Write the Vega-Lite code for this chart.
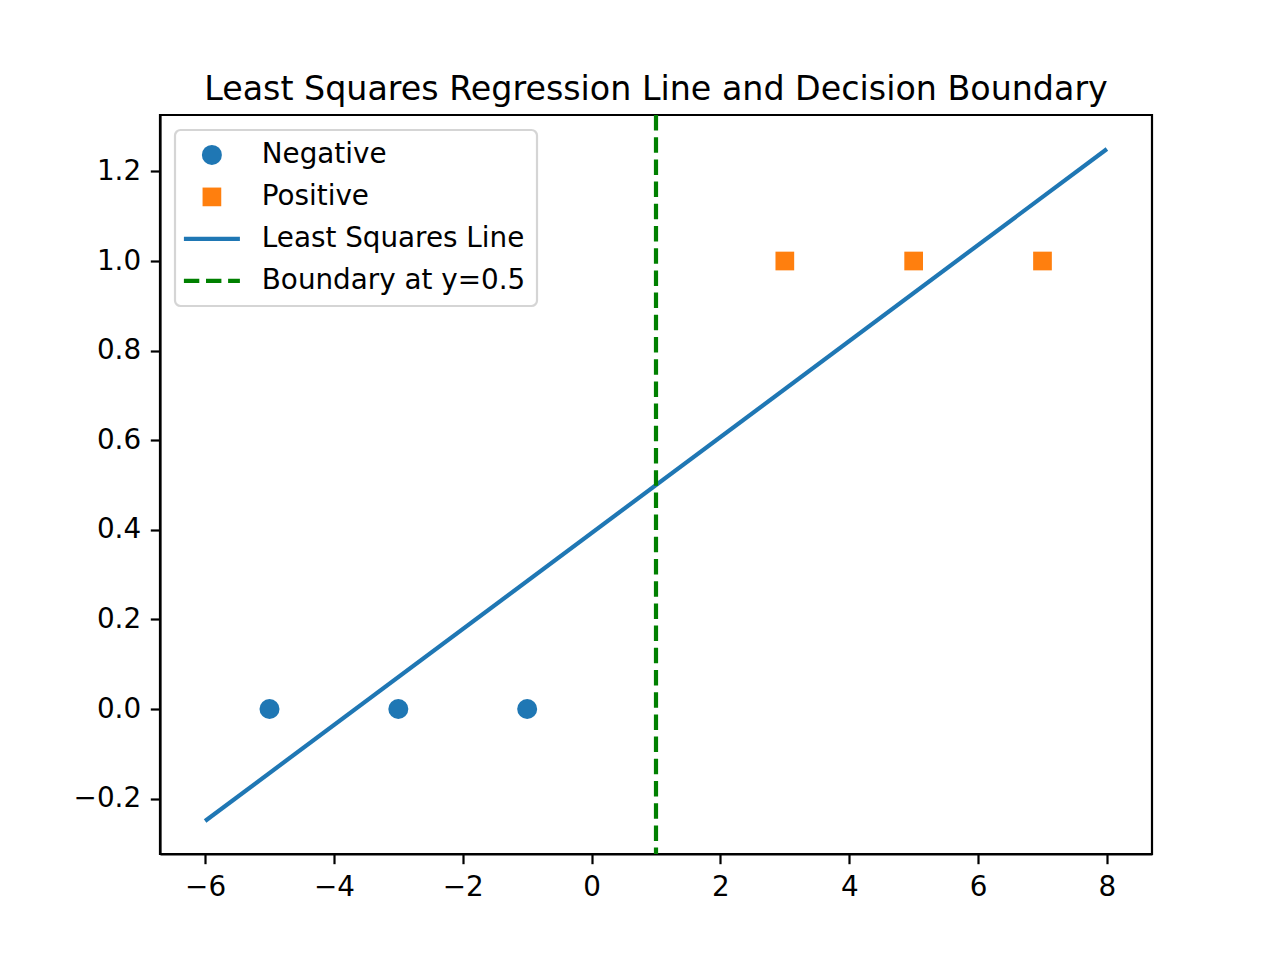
{
  "$schema": "https://vega.github.io/schema/vega-lite/v6.json",
  "width": 992,
  "height": 739,
  "autosize": {"type": "none"},
  "padding": {"left": 160, "top": 115, "right": 128, "bottom": 106},
  "background": "white",
  "title": {
    "text": "Least Squares Regression Line and Decision Boundary",
    "font": "DejaVu Sans",
    "fontSize": 33.3,
    "fontWeight": "normal",
    "color": "black",
    "anchor": "middle",
    "baseline": "alphabetic",
    "offset": -20
  },
  "config": {
    "view": {"stroke": "black", "strokeWidth": 2.2},
    "axis": {
      "grid": false,
      "domainColor": "black",
      "domainWidth": 2.2,
      "tickColor": "black",
      "tickWidth": 2.2,
      "tickSize": 9.7,
      "labelFont": "DejaVu Sans",
      "labelFontSize": 27.8,
      "labelColor": "black",
      "labelPadding": 9.7,
      "title": null
    },
    "legend": {
      "orient": "top-left",
      "offset": 15,
      "padding": 11,
      "fillColor": "white",
      "strokeColor": "#d5d5d5",
      "strokeWidth": 2.2,
      "cornerRadius": 5.6,
      "labelFont": "DejaVu Sans",
      "labelFontSize": 27.8,
      "labelColor": "black",
      "labelOffset": 36,
      "labelLimit": 500,
      "rowPadding": 5,
      "gridAlign": "all",
      "symbolSize": 400,
      "symbolOffset": 12,
      "symbolOpacity": 1,
      "symbolStrokeWidth": 4.2
    }
  },
  "data": {
    "values": [
      {"x": -5, "y": 0, "series": "Negative"},
      {"x": -3, "y": 0, "series": "Negative"},
      {"x": -1, "y": 0, "series": "Negative"},
      {"x": 3, "y": 1, "series": "Positive"},
      {"x": 5, "y": 1, "series": "Positive"},
      {"x": 7, "y": 1, "series": "Positive"},
      {"x": -6, "y": -0.25, "series": "Least Squares Line"},
      {"x": 8, "y": 1.25, "series": "Least Squares Line"},
      {"x": 1, "y": null, "series": "Boundary at y=0.5"}
    ]
  },
  "layer": [
    {
      "transform": [{"filter": "datum.series === 'Negative' || datum.series === 'Positive'"}],
      "mark": {"type": "point", "filled": true, "opacity": 1, "size": 400, "strokeWidth": 0},
      "encoding": {
        "x": {
          "field": "x", "type": "quantitative",
          "scale": {"domain": [-6.7, 8.7], "nice": false, "zero": false},
          "axis": {"values": [-6, -4, -2, 0, 2, 4, 6, 8], "format": "d"}
        },
        "y": {
          "field": "y", "type": "quantitative",
          "scale": {"domain": [-0.3236, 1.3259], "nice": false, "zero": false},
          "axis": {"values": [-0.2, 0, 0.2, 0.4, 0.6, 0.8, 1.0, 1.2], "format": ".1f"}
        },
        "color": {
          "field": "series", "type": "nominal",
          "scale": {
            "domain": ["Negative", "Positive", "Least Squares Line", "Boundary at y=0.5"],
            "range": ["#1f77b4", "#ff7f0e", "#1f77b4", "#008000"]
          },
          "legend": {
            "title": null,
            "encode": {
              "symbols": {
                "update": {
                  "stroke": {"signal": "datum.value === 'Least Squares Line' ? '#1f77b4' : datum.value === 'Boundary at y=0.5' ? '#008000' : 'transparent'"},
                  "strokeDash": {"signal": "datum.value === 'Boundary at y=0.5' ? [15.4, 6.7] : [1, 0]"}
                }
              }
            }
          }
        },
        "shape": {
          "field": "series", "type": "nominal",
          "scale": {
            "domain": ["Negative", "Positive", "Least Squares Line", "Boundary at y=0.5"],
            "range": ["circle", "M-0.935,-0.935H0.935V0.935H-0.935Z", "M-2.8,0H2.8", "M-2.8,0H2.8"]
          },
          "legend": {
            "title": null,
            "encode": {
              "symbols": {
                "update": {
                  "stroke": {"signal": "datum.value === 'Least Squares Line' ? '#1f77b4' : datum.value === 'Boundary at y=0.5' ? '#008000' : 'transparent'"},
                  "strokeDash": {"signal": "datum.value === 'Boundary at y=0.5' ? [15.4, 6.7] : [1, 0]"}
                }
              }
            }
          }
        }
      }
    },
    {
      "transform": [{"filter": "datum.series === 'Least Squares Line'"}],
      "mark": {"type": "line", "color": "#1f77b4", "strokeWidth": 4.2},
      "encoding": {
        "x": {"field": "x", "type": "quantitative"},
        "y": {"field": "y", "type": "quantitative"}
      }
    },
    {
      "transform": [{"filter": "datum.series === 'Boundary at y=0.5'"}],
      "mark": {"type": "rule", "color": "#008000", "strokeWidth": 4.2, "strokeDash": [15.5, 6.7]},
      "encoding": {
        "x": {"field": "x", "type": "quantitative"}
      }
    }
  ]
}
